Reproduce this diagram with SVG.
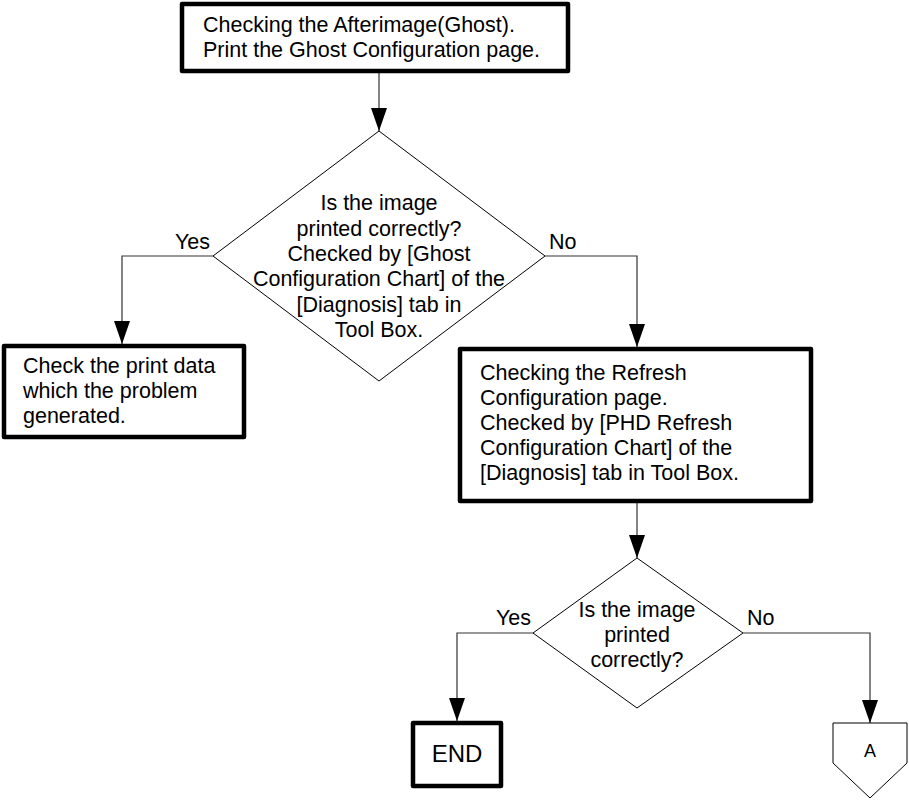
<svg xmlns="http://www.w3.org/2000/svg" width="909" height="800" viewBox="0 0 909 800">
<defs>
<style>
text{font-family:"Liberation Sans",Arial,sans-serif;font-size:21.5px;fill:#000}
.box{fill:#fff;stroke:#000;stroke-width:4.5;stroke-linejoin:round}
.dia{fill:#fff;stroke:#000;stroke-width:1}
.con{fill:none;stroke:#333;stroke-width:1.2}
.mid{text-anchor:middle}
</style>
<marker id="arr" viewBox="0 0 23 16" markerWidth="23" markerHeight="16" refX="23" refY="8" orient="auto" markerUnits="userSpaceOnUse">
<path d="M0,0 L23,8 L0,16 z" fill="#000"/>
</marker>
</defs>
<rect width="909" height="800" fill="#fff"/>
<g id="connectors">
<path class="con" d="M379,72 V131" marker-end="url(#arr)"/>
<path class="con" d="M213,256 H122 V344" marker-end="url(#arr)"/>
<path class="con" d="M545,256 H637 V347" marker-end="url(#arr)"/>
<path class="con" d="M637,502 V558" marker-end="url(#arr)"/>
<path class="con" d="M533,633 H457 V721" marker-end="url(#arr)"/>
<path class="con" d="M743,633 H870 V723" marker-end="url(#arr)"/>
<text x="175" y="249">Yes</text>
<text x="549" y="249">No</text>
<text x="496" y="625">Yes</text>
<text x="747" y="625">No</text>
</g>
<g id="start">
<rect class="box" x="182" y="4" width="386" height="67"/>
<text x="203" y="32">Checking the Afterimage(Ghost).</text>
<text x="203" y="57">Print the Ghost Configuration page.</text>
</g>
<g id="decision1">
<polygon class="dia" points="379,131 545,256 379,381 213,256"/>
<text class="mid" x="379" y="210">Is the image</text>
<text class="mid" x="379" y="235.5">printed correctly?</text>
<text class="mid" x="379" y="261">Checked by [Ghost</text>
<text class="mid" x="379" y="286">Configuration Chart] of the</text>
<text class="mid" x="379" y="311.5">[Diagnosis] tab in</text>
<text class="mid" x="379" y="337">Tool Box.</text>
</g>
<g id="checkdata">
<rect class="box" x="4" y="346" width="240" height="91"/>
<text x="23" y="373">Check the print data</text>
<text x="23" y="398">which the problem</text>
<text x="23" y="423">generated.</text>
</g>
<g id="refresh">
<rect class="box" x="460" y="349" width="351" height="152"/>
<text x="480" y="380">Checking the Refresh</text>
<text x="480" y="405">Configuration page.</text>
<text x="480" y="430">Checked by [PHD Refresh</text>
<text x="480" y="455">Configuration Chart] of the</text>
<text x="480" y="480">[Diagnosis] tab in Tool Box.</text>
</g>
<g id="decision2">
<polygon class="dia" points="637,558 743,633 637,708 533,633"/>
<text class="mid" x="637" y="617">Is the image</text>
<text class="mid" x="637" y="642">printed</text>
<text class="mid" x="637" y="667">correctly?</text>
</g>
<g id="end">
<rect class="box" x="413" y="723" width="88" height="63"/>
<text class="mid" x="457" y="762" style="font-size:24px">END</text>
</g>
<g id="offpageA">
<polygon class="dia" points="833,723 907,723 907,763 870,798 833,763"/>
<text class="mid" x="870" y="757" style="font-size:18px">A</text>
</g>
</svg>
